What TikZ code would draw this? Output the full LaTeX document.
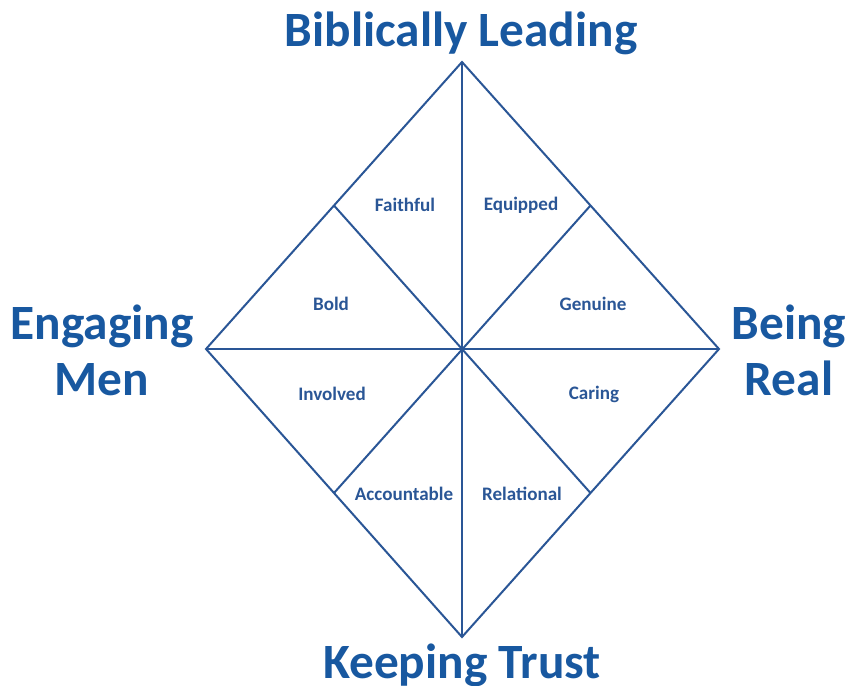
\documentclass[tikz,border=0pt]{standalone}
\usepackage{fontspec}
\setmainfont{Carlito}
\usepackage{tikz}
\usetikzlibrary{calc}

\definecolor{deepblue}{RGB}{24,88,160}
\definecolor{lineblue}{RGB}{42,86,150}

\begin{document}
\begin{tikzpicture}[x=0.75pt, y=-0.75pt,
    big/.style={text=deepblue, font=\bfseries\fontsize{37}{42}\selectfont, align=center},
    small/.style={text=lineblue, font=\bfseries\fontsize{14.3}{16}\selectfont}]
        \useasboundingbox (0, 0) rectangle (847, 686);
        % corners and edge midpoints of the diamond
        \coordinate (top) at (462, 62);
        \coordinate (bot) at (462, 637);
        \coordinate (lft) at (206, 349);
        \coordinate (rgt) at (719, 349);
        \coordinate (tl) at ($(top)!0.5!(lft)$);
        \coordinate (tr) at ($(top)!0.5!(rgt)$);
        \coordinate (bl) at ($(bot)!0.5!(lft)$);
        \coordinate (br) at ($(bot)!0.5!(rgt)$);
        \draw[lineblue, line width=1.5pt, line join=miter] (top) -- (rgt) -- (bot) -- (lft) -- cycle;
        \draw[lineblue, line width=1.5pt] (top) -- (bot);
        \draw[lineblue, line width=1.5pt] (lft) -- (rgt);
        \draw[lineblue, line width=1.5pt] (tl) -- (br);
        \draw[lineblue, line width=1.5pt] (tr) -- (bl);
        % outer labels
        \node[big] (lead) at (461, 33) {Biblically Leading};
        \node[big] (engage) at (102, 350) {Engaging\\Men};
        \node[big] (real) at (789, 350) {Being\\Real};
        \node[big] (trust) at (462, 665) {Keeping Trust};
        % inner labels
        \node[small] (faith) at (405, 205) {Faithful};
        \node[small] (equip) at (521, 205) {Equipped};
        \node[small] (bold) at (331, 304) {Bold};
        \node[small] (genuine) at (593, 304) {Genuine};
        \node[small] (involved) at (332, 394) {Involved};
        \node[small] (caring) at (594, 394) {Caring};
        \node[small] (account) at (404, 494) {Accountable};
        \node[small] (relate) at (522, 494) {Relational};
      \end{tikzpicture}
\end{document}
